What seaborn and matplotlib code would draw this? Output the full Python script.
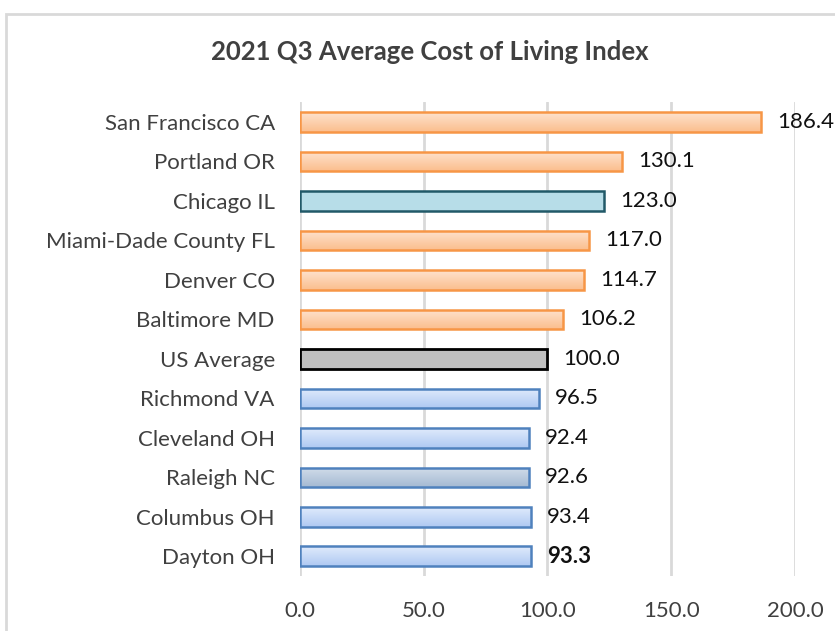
import matplotlib
matplotlib.use("Agg")
import numpy as np
import matplotlib.pyplot as plt
import seaborn as sns
from matplotlib.colors import LinearSegmentedColormap
from matplotlib.patches import Rectangle

# data
cities = ["San Francisco CA", "Portland OR", "Chicago IL", "Miami-Dade County FL",
          "Denver CO", "Baltimore MD", "US Average", "Richmond VA",
          "Cleveland OH", "Raleigh NC", "Columbus OH", "Dayton OH"]
index_values = [186.4, 130.1, 123.0, 117.0, 114.7, 106.2, 100.0, 96.5, 92.4, 92.6, 93.4, 93.3]
fill_colors = ["#FCCBA4"] * 2 + ["#B7DDE8"] + ["#FCCBA4"] * 3 + ["#BFBFBF"] + \
              ["#C9DBF6"] * 2 + ["#BDCFE3"] + ["#C9DBF6"] * 2
edge_colors = ["#F79646"] * 2 + ["#215968"] + ["#F79646"] * 3 + ["#000000"] + ["#4F81BD"] * 5
# (top, bottom) gradient colours; None = flat fill
gradients = {"#FCCBA4": ("#FEE3CE", "#FBBE8E"),
             "#C9DBF6": ("#E0EBFC", "#AFC9F2"),
             "#BDCFE3": ("#D2DDEA", "#A5BAD3")}
x_ticks = [0, 50, 100, 150, 200]

sns.set_style("white")
plt.rcParams["font.family"] = ["Lato", "DejaVu Sans"]

fig = plt.figure(figsize=(8.35, 6.31), dpi=100)
ax = fig.add_axes([0.359, 0.087, 0.593, 0.751])

sns.barplot(x=index_values, y=cities, hue=cities, palette=dict(zip(cities, fill_colors)),
            saturation=1, legend=False, width=0.5, ax=ax, zorder=3)

ax.set_xlim(0, 200)
ax.set_ylim(11.5, -0.5)

for patch, fc, ec in zip(ax.patches, fill_colors, edge_colors):
    patch.set_edgecolor(ec)
    patch.set_linewidth(2.0 if ec == "#000000" else 1.8)
    if fc in gradients:
        cmap = LinearSegmentedColormap.from_list("g", gradients[fc])
        x0, y0 = patch.get_x(), patch.get_y()
        w, h = patch.get_width(), patch.get_height()
        img = ax.imshow(np.linspace(0, 1, 64).reshape(-1, 1), cmap=cmap, aspect="auto",
                        extent=(x0, x0 + w, y0 + h, y0), origin="upper", zorder=3.5)
        img.set_clip_path(patch)
        patch.set_facecolor("none")
        patch.set_zorder(4)

ax.set_xlim(0, 200)
ax.set_ylim(11.5, -0.5)

for i, v in enumerate(index_values):
    ax.text(v + 6.5, i, f"{v:.1f}", va="center", ha="left", fontsize=16,
            color="#111111", fontweight="bold" if cities[i] == "Dayton OH" else "normal",
            clip_on=False)

ax.set_xticks(x_ticks)
ax.set_xticklabels([f"{t:.1f}" for t in x_ticks])
ax.grid(axis="x", color="#D9D9D9", linewidth=2, zorder=0)
ax.set_axisbelow(True)
for s in ax.spines.values():
    s.set_visible(False)
ax.tick_params(axis="both", length=0, labelsize=16, labelcolor="#404040")
ax.tick_params(axis="y", pad=18)
ax.tick_params(axis="x", pad=18)
ax.set_xlabel("")
ax.set_ylabel("")

fig.text(0.515, 0.917, "2021 Q3 Average Cost of Living Index", ha="center", va="center",
         fontsize=18.5, fontweight="bold", color="#404040")

# outer chart frame
fig.patches.append(Rectangle((6 / 835, -0.05), 1.1, 1 - 14 / 631 + 0.05, transform=fig.transFigure,
                             fill=False, edgecolor="#D9D9D9", linewidth=2, zorder=0))

fig.savefig("out.png", dpi=100)
